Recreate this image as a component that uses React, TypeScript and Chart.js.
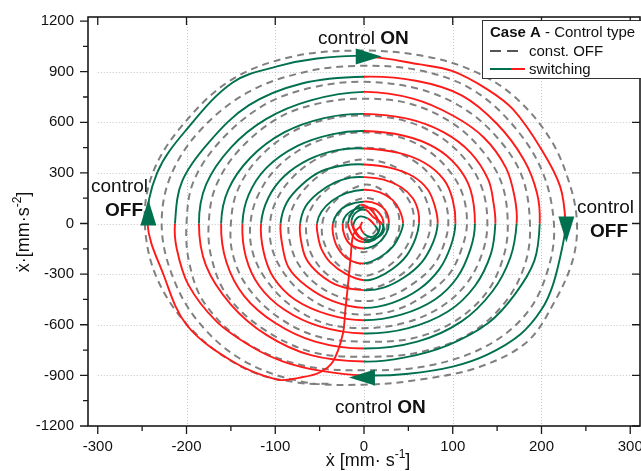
import React, { useEffect, useRef } from "react";
import { Chart, registerables } from "chart.js";
Chart.register(...registerables);

const X_TICKS = [-300, -200, -100, 0, 100, 200, 300];
const Y_TICKS = [-1200, -900, -600, -300, 0, 300, 600, 900, 1200];
const X_MINOR = [-250, -150, -50, 50, 150, 250];
const Y_MINOR = [-1050, -750, -450, -150, 150, 450, 750, 1050];
const X_MIN = -311;
const X_MAX = 311;
const Y_MIN = -1200;
const Y_MAX = 1224;

const GREEN = "#00704f";
const RED = "#ff1a1a";
const GREY = "#808080";

// switching trajectory (x-dot, x-ddot), clockwise spiral
const SWITCHING: [number, number][] = [
  [-4, -15], [-12, -65], [-15, -200], [-18, -362], [-21, -510], [-24, -658], [-35, -818], [-50, -883], [-72, -913], [-98, -925],
  [-148, -818], [-200, -600], [-226, -302], [-244, 0],
  [-233, 302], [-200, 557], [-148, 836], [-98, 931], [-53, 978], [0, 992],
  [63, 943], [100, 903], [139, 795], [168, 676], [200, 439], [221, 220], [227, 0],
  [224, -125], [213, -362], [200, -510], [176, -658], [139, -777], [100, -848], [50, -890], [0, -900],
  [-50, -872], [-91, -818], [-125, -735], [-166, -581], [-198, -362], [-211, -150], [-213, 0],
  [-205, 250], [-175, 480], [-130, 700], [-70, 830], [0, 870],
  [60, 845], [110, 760], [150, 590], [180, 380], [195, 180], [198, 0],
  [192, -220], [170, -420], [140, -590], [95, -720], [45, -795], [0, -818],
  [-60, -780], [-110, -660], [-150, -480], [-178, -250], [-186, 0],
  [-178, 230], [-150, 450], [-110, 620], [-60, 730], [0, 780],
  [55, 740], [100, 640], [135, 510], [160, 330], [170, 150], [172, 0],
  [165, -200], [145, -400], [110, -580], [60, -700], [0, -741],
  [-55, -700], [-100, -590], [-135, -430], [-155, -230], [-161, 0],
  [-153, 200], [-128, 390], [-90, 540], [-45, 625], [0, 650],
  [50, 620], [90, 540], [120, 420], [140, 260], [146, 120], [148, 0],
  [143, -180], [125, -370], [95, -520], [50, -620], [0, -652],
  [-50, -610], [-90, -510], [-118, -370], [-133, -200], [-137, 0],
  [-130, 170], [-110, 330], [-75, 460], [-35, 530], [0, 548],
  [45, 520], [80, 450], [105, 340], [120, 200], [125, 0],
  [120, -150], [105, -320], [80, -450], [42, -540], [0, -573],
  [-40, -540], [-78, -450], [-102, -320], [-113, -170], [-116, 0],
  [-108, 150], [-90, 280], [-62, 380], [-30, 435], [0, 445],
  [38, 420], [68, 360], [90, 260], [100, 140], [103, 0],
  [98, -130], [85, -270], [62, -390], [32, -470], [0, -500],
  [-35, -460], [-65, -370], [-85, -260], [-92, -130], [-94, 0],
  [-87, 125], [-70, 230], [-48, 310], [-22, 345], [0, 350],
  [30, 330], [55, 280], [72, 200], [80, 100], [83, 0],
  [78, -110], [65, -230], [45, -320], [22, -380], [0, -395],
  [-28, -370], [-50, -300], [-65, -210], [-71, -100], [-72, 0],
  [-66, 100], [-52, 180], [-32, 245], [-15, 272], [0, 275],
  [22, 260], [42, 215], [55, 150], [61, 75], [62, 0],
  [58, -90], [48, -190], [32, -270], [15, -320], [0, -336],
  [-20, -300], [-38, -230], [-48, -150], [-52, -70], [-53, 0],
  [-48, 70], [-36, 135], [-20, 180], [0, 200],
  [18, 185], [32, 140], [40, 80], [44, 0],
  [40, -70], [32, -140], [18, -200], [0, -237],
  [-18, -210], [-30, -140], [-35, -60], [-35, 0],
  [-30, 60], [-20, 105], [0, 130],
  [15, 115], [25, 70], [28, 0],
  [25, -60], [15, -120], [0, -148],
  [-15, -125], [-22, -70], [-24, 0],
  [-20, 50], [-10, 85], [0, 95],
  [12, 85], [20, 40], [22, 0],
  [20, -50], [12, -95], [0, -110],
  [-10, -90], [-16, -40], [-18, 0], [-14, 60], [-4, 110], [6, 90], [14, 40], [18, -10],
  [14, -70], [4, -100], [-6, -80], [-12, -30], [-14, 20], [-8, 70], [2, 80], [10, 40],
  [20, 0], [22, -50], [12, -90], [0, -95], [-8, -60], [-12, -10], [-6, 40], [4, 30],
  [12, -10], [16, -50], [8, -80], [0, -60], [-4, -20], [-2, 10],
];

// constant OFF trajectory
const CONST_OFF: [number, number][] = [
  [-40, -950], [-72, -945],
  [-130, -870], [-190, -650], [-232, -340], [-247, 0],
  [-238, 300], [-205, 580], [-150, 850], [-80, 990], [0, 1025],
  [70, 990], [125, 900], [170, 750], [210, 500], [232, 230], [240, 0],
  [235, -220], [215, -460], [184, -700], [130, -850], [63, -925], [0, -955],
  [-72, -935], [-140, -800], [-190, -560], [-218, -280], [-228, 0],
  [-218, 280], [-185, 550], [-130, 780], [-65, 900], [0, 935],
  [65, 905], [120, 800], [165, 600], [200, 320], [214, 0],
  [208, -260], [185, -520], [140, -720], [75, -840], [0, -870],
  [-70, -840], [-135, -700], [-180, -470], [-197, -230], [-200, 0],
  [-192, 250], [-160, 500], [-110, 710], [-55, 810], [0, 840],
  [60, 800], [110, 690], [150, 510], [178, 280], [187, 0],
  [182, -230], [160, -460], [120, -650], [65, -760], [0, -790],
  [-60, -760], [-115, -620], [-155, -420], [-172, -200], [-175, 0],
  [-167, 220], [-140, 440], [-95, 630], [-48, 715], [0, 740],
  [52, 710], [98, 600], [132, 440], [155, 240], [162, 0],
  [157, -200], [138, -410], [102, -580], [55, -680], [0, -700],
  [-52, -670], [-98, -550], [-132, -370], [-148, -180], [-150, 0],
  [-143, 190], [-120, 380], [-82, 540], [-40, 620], [0, 640],
  [45, 610], [84, 520], [114, 380], [133, 210], [139, 0],
  [133, -180], [115, -360], [85, -500], [45, -590], [0, -620],
  [-45, -590], [-84, -480], [-112, -320], [-126, -160], [-128, 0],
  [-120, 160], [-100, 320], [-68, 450], [-33, 520], [0, 540],
  [38, 515], [70, 440], [95, 320], [111, 175], [116, 0],
  [110, -150], [96, -300], [70, -420], [37, -510], [0, -540],
  [-37, -510], [-70, -410], [-92, -280], [-104, -140], [-106, 0],
  [-99, 135], [-82, 265], [-56, 375], [-27, 435], [0, 450],
  [32, 430], [58, 365], [78, 265], [91, 140], [95, 0],
  [90, -125], [78, -250], [57, -350], [30, -430], [0, -460],
  [-30, -430], [-56, -350], [-74, -240], [-83, -120], [-85, 0],
  [-79, 110], [-65, 215], [-45, 305], [-22, 360], [0, 380],
  [26, 355], [47, 295], [63, 210], [72, 110], [75, 0],
  [71, -100], [61, -200], [45, -290], [23, -360], [0, -390],
  [-24, -360], [-44, -290], [-58, -195], [-64, -100], [-65, 0],
  [-60, 85], [-49, 165], [-33, 235], [-16, 280], [0, 300],
  [20, 280], [36, 230], [48, 160], [55, 80], [56, 0],
  [53, -80], [45, -160], [33, -230], [17, -285], [0, -310],
  [-18, -285], [-33, -225], [-42, -150], [-47, -75], [-47, 0],
  [-43, 65], [-34, 125], [-22, 180], [0, 230],
  [15, 215], [28, 160], [37, 90], [40, 0],
  [37, -80], [28, -160], [15, -215], [0, -240],
  [-15, -215], [-26, -150], [-31, -70], [-32, 0],
  [-28, 60], [-18, 115], [0, 150],
  [14, 135], [23, 80], [26, 0],
  [23, -70], [14, -130], [0, -170],
  [-12, -140], [-18, -80], [-20, 0],
  [-16, 50], [0, 100],
  [10, 80], [15, 0],
  [12, -50], [0, -90],
  [-8, -60], [-12, 0],
];

// direction arrows: tip position (data) and direction
const ARROWS: { x: number; y: number; dir: "right" | "left" | "up" | "down" }[] = [
  { x: 20, y: 990, dir: "right" },
  { x: -243, y: 142, dir: "up" },
  { x: 228, y: -113, dir: "down" },
  { x: -17, y: -913, dir: "left" },
];

const FONT = '"Liberation Sans", Arial, sans-serif';

type Run = { t: string; bold?: boolean; size: number; dy?: number };

function runsWidth(ctx: CanvasRenderingContext2D, runs: Run[]) {
  let w = 0;
  for (const r of runs) {
    ctx.font = `${r.bold ? "bold " : ""}${r.size}px ${FONT}`;
    w += ctx.measureText(r.t).width;
  }
  return w;
}
function drawRuns(ctx: CanvasRenderingContext2D, x: number, y: number, runs: Run[]) {
  let cx = x;
  for (const r of runs) {
    ctx.font = `${r.bold ? "bold " : ""}${r.size}px ${FONT}`;
    ctx.fillText(r.t, cx, y + (r.dy || 0));
    cx += ctx.measureText(r.t).width;
  }
}

const deco = {
  id: "deco",
  beforeDatasetsDraw(chart: any) {
    const { ctx, scales } = chart;
    const xs = scales.x, ys = scales.y;
    ctx.save();
    ctx.strokeStyle = "#c4c4c4";
    ctx.lineWidth = 1;
    ctx.setLineDash([1, 2]);
    for (const v of X_TICKS.slice(1, -1)) {
      const px = Math.round(xs.getPixelForValue(v)) + 0.5;
      ctx.beginPath();
      ctx.moveTo(px, ys.getPixelForValue(1200));
      ctx.lineTo(px, ys.getPixelForValue(-1200));
      ctx.stroke();
    }
    for (const v of Y_TICKS.slice(1, -1)) {
      const py = Math.round(ys.getPixelForValue(v)) + 0.5;
      ctx.beginPath();
      ctx.moveTo(xs.getPixelForValue(-300), py);
      ctx.lineTo(xs.getPixelForValue(300), py);
      ctx.stroke();
    }
    ctx.restore();
  },
  afterDatasetsDraw(chart: any) {
    const { ctx, scales, chartArea } = chart;
    const xs = scales.x, ys = scales.y;
    ctx.save();
    // arrows
    ctx.fillStyle = GREEN;
    for (const a of ARROWS) {
      const tx = xs.getPixelForValue(a.x), ty = ys.getPixelForValue(a.y);
      const L = 26, W = 8;
      ctx.beginPath();
      ctx.moveTo(tx, ty);
      if (a.dir === "right") { ctx.lineTo(tx - L, ty - W); ctx.lineTo(tx - L, ty + W); }
      if (a.dir === "left") { ctx.lineTo(tx + L, ty - W); ctx.lineTo(tx + L, ty + W); }
      if (a.dir === "up") { ctx.lineTo(tx - W, ty + L); ctx.lineTo(tx + W, ty + L); }
      if (a.dir === "down") { ctx.lineTo(tx - W, ty - L); ctx.lineTo(tx + W, ty - L); }
      ctx.closePath();
      ctx.fill();
    }
    // annotations
    ctx.fillStyle = "#111";
    ctx.textBaseline = "alphabetic";
    ctx.textAlign = "left";
    drawRuns(ctx, 318, 44, [{ t: "control ", size: 19 }, { t: "ON", size: 19, bold: true }]);
    drawRuns(ctx, 335, 413, [{ t: "control ", size: 19 }, { t: "ON", size: 19, bold: true }]);
    drawRuns(ctx, 91, 192, [{ t: "control", size: 19 }]);
    drawRuns(ctx, 105, 216, [{ t: "OFF", size: 19, bold: true }]);
    drawRuns(ctx, 577, 213, [{ t: "control", size: 19 }]);
    drawRuns(ctx, 590, 237, [{ t: "OFF", size: 19, bold: true }]);

    // frame
    ctx.strokeStyle = "#1a1a1a";
    ctx.lineWidth = 1.6;
    ctx.strokeRect(chartArea.left, chartArea.top, chartArea.right - chartArea.left, chartArea.bottom - chartArea.top);
    ctx.lineWidth = 1.3;
    ctx.beginPath();
    for (const v of X_TICKS) {
      const px = xs.getPixelForValue(v);
      ctx.moveTo(px, chartArea.bottom); ctx.lineTo(px, chartArea.bottom + 8);
      ctx.moveTo(px, chartArea.top); ctx.lineTo(px, chartArea.top + 8);
    }
    for (const v of X_MINOR) {
      const px = xs.getPixelForValue(v);
      ctx.moveTo(px, chartArea.bottom); ctx.lineTo(px, chartArea.bottom + 5);
    }
    for (const v of Y_TICKS) {
      const py = ys.getPixelForValue(v);
      ctx.moveTo(chartArea.left, py); ctx.lineTo(chartArea.left - 8, py);
      ctx.moveTo(chartArea.right, py); ctx.lineTo(chartArea.right - 8, py);
    }
    for (const v of Y_MINOR) {
      const py = ys.getPixelForValue(v);
      ctx.moveTo(chartArea.left, py); ctx.lineTo(chartArea.left - 5, py);
    }
    ctx.stroke();

    // axis titles
    ctx.fillStyle = "#111";
    const xt: Run[] = [{ t: "ẋ [mm· s", size: 18 }, { t: "-1", size: 12, dy: -8 }, { t: "]", size: 18 }];
    const xw = runsWidth(ctx, xt);
    drawRuns(ctx, 368 - xw / 2, 466, xt);
    const yt: Run[] = [{ t: "ẋ·[mm·s", size: 18 }, { t: "-2", size: 12, dy: -8 }, { t: "]", size: 18 }];
    const yw = runsWidth(ctx, yt);
    ctx.save();
    ctx.translate(29, 232);
    ctx.rotate(-Math.PI / 2);
    drawRuns(ctx, -yw / 2, 0, yt);
    ctx.restore();

    // legend
    ctx.fillStyle = "#fff";
    ctx.fillRect(482, 20, 170, 58);
    ctx.strokeStyle = "#333";
    ctx.lineWidth = 1;
    ctx.strokeRect(482.5, 20.5, 170, 58);
    ctx.fillStyle = "#111";
    drawRuns(ctx, 490, 37, [{ t: "Case A", size: 15, bold: true }, { t: " - Control type", size: 15 }]);
    drawRuns(ctx, 529, 56, [{ t: "const. OFF", size: 15 }]);
    drawRuns(ctx, 529, 74, [{ t: "switching", size: 15 }]);
    ctx.lineWidth = 2;
    ctx.strokeStyle = "#555";
    ctx.setLineDash([11, 6]);
    ctx.beginPath(); ctx.moveTo(490, 51); ctx.lineTo(520, 51); ctx.stroke();
    ctx.setLineDash([]);
    ctx.strokeStyle = GREEN;
    ctx.beginPath(); ctx.moveTo(490, 69); ctx.lineTo(511, 69); ctx.stroke();
    ctx.strokeStyle = RED;
    ctx.beginPath(); ctx.moveTo(511, 69); ctx.lineTo(525, 69); ctx.stroke();
    ctx.restore();
  },
};

export default function App() {
  const ref = useRef<HTMLCanvasElement | null>(null);
  useEffect(() => {
    if (!ref.current) return;
    const segColor = (c: any) => {
      const a = c.p0.parsed, b = c.p1.parsed;
      const mx = (a.x + b.x) / 2, my = (a.y + b.y) / 2;
      return mx * my > 0 ? RED : GREEN;
    };
    const chart = new Chart(ref.current, {
      type: "scatter",
      data: {
        datasets: [
          {
            label: "switching",
            data: SWITCHING.map(([x, y]) => ({ x, y })),
            showLine: true,
            pointRadius: 0,
            borderWidth: 1.9,
            borderColor: GREEN,
            tension: 0.35,
            order: 0,
            segment: { borderColor: segColor },
          } as any,
          {
            label: "const. OFF",
            data: CONST_OFF.map(([x, y]) => ({ x, y })),
            showLine: true,
            pointRadius: 0,
            borderWidth: 2,
            borderColor: GREY,
            borderDash: [7, 5],
            tension: 0.35,
            order: 1,
          } as any,
        ],
      },
      options: {
        responsive: false,
        animation: false,
        devicePixelRatio: 1,
        layout: { padding: { top: 17, right: 1, left: 0, bottom: 0 } },
        plugins: { legend: { display: false }, tooltip: { enabled: false } },
        scales: {
          x: {
            type: "linear",
            min: X_MIN,
            max: X_MAX,
            grid: { display: false, drawTicks: false },
            border: { display: false },
            afterBuildTicks: (s: any) => { s.ticks = X_TICKS.map((v) => ({ value: v })); },
            afterFit: (s: any) => { s.height = 45; s.paddingLeft = 0; s.paddingRight = 0; },
            ticks: { padding: 12, color: "#111", font: { size: 15, family: FONT }, maxRotation: 0, autoSkip: false, callback: (v: any) => String(v) },
          },
          y: {
            type: "linear",
            min: Y_MIN,
            max: Y_MAX,
            grid: { display: false, drawTicks: false },
            border: { display: false },
            afterBuildTicks: (s: any) => { s.ticks = Y_TICKS.map((v) => ({ value: v })); },
            afterFit: (s: any) => { s.width = 88; s.paddingTop = 0; s.paddingBottom = 0; },
            ticks: { padding: 14, color: "#111", font: { size: 15, family: FONT }, autoSkip: false, callback: (v: any) => String(v) },
          },
        },
      },
      plugins: [deco],
    });
    return () => chart.destroy();
  }, []);
  return (
    <div style={{ position: "absolute", left: 0, top: 0, width: 641, height: 471, background: "#fff" }}>
      <canvas ref={ref} width={641} height={471} style={{ width: 641, height: 471, display: "block" }} />
    </div>
  );
}
